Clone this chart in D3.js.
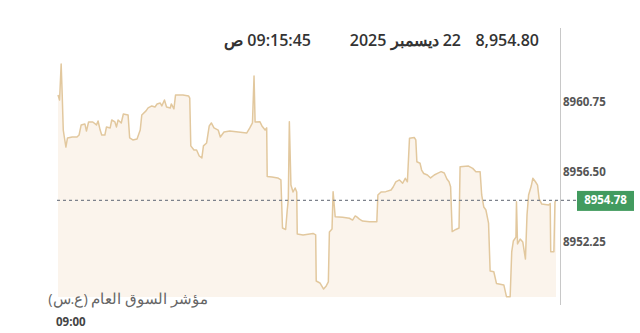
<!DOCTYPE html>
<html><head><meta charset="utf-8">
<script src="https://cdn.jsdelivr.net/npm/d3@7"></script>
<style>html,body{margin:0;padding:0;background:#fff;overflow:hidden}svg{display:block;font-family:"Open Sans","Noto Sans",sans-serif}</style>
</head><body><svg id="c" width="640" height="333"></svg>
<script>
// seconds after 09:00
const times = [0,3,6,8,10,12,15,18,27,36,40,44,51,54,58,66,73,76,80,83,89,92,99,102,108,111,114,120,124,133,136,142,150,156,159,167,171,178,184,188,194,197,202,206,213,215,220,223,237,248,250,252,258,263,268,273,276,282,287,291,296,304,308,315,326,342,358,364,369,372,374,383,387,393,396,397,406,417,423,426,432,435,437,439,442,446,450,453,454,465,484,489,490,497,504,509,513,515,520,522,526,540,553,559,564,567,572,578,591,605,607,613,622,632,636,641,648,654,659,663,667,676,679,681,687,690,694,701,707,714,720,727,733,738,742,745,748,755,761,763,779,787,793,801,804,808,812,817,820,827,832,846,851,858,861,864,869,870,872,877,882,887,890,893,898,901,906,910,913,918,931,934,935,941,943,945];
const values = [8961.16,8960.86,8963.04,8961.16,8959.04,8958.62,8958.01,8958.56,8958.62,8958.62,8958.74,8959.35,8959.41,8958.98,8959.53,8959.53,8959.35,8959.59,8959.04,8958.74,8958.74,8959.23,8959.17,8959.65,8959.53,8959.23,8959.65,8959.47,8960.01,8959.95,8958.56,8958.44,8958.50,8959.04,8959.95,8960.20,8960.38,8960.50,8960.44,8960.62,8960.68,8960.50,8960.86,8960.44,8960.38,8960.62,8960.32,8961.16,8961.16,8961.10,8960.98,8958.08,8957.83,8957.83,8957.47,8957.35,8958.08,8958.26,8959.29,8959.47,8959.17,8959.04,8958.62,8958.92,8958.98,8958.92,8958.86,8959.17,8959.47,8962.31,8959.53,8959.55,8959.29,8959.04,8959.17,8956.23,8956.20,8956.14,8956.02,8953.11,8953.02,8954.20,8954.81,8959.55,8955.71,8955.29,8955.53,8955.29,8952.75,8952.69,8952.78,8952.69,8949.90,8949.78,8949.41,8949.60,8949.84,8952.87,8953.05,8955.31,8953.79,8953.76,8953.70,8953.59,8953.84,8953.78,8953.65,8953.53,8953.49,8953.49,8955.11,8955.29,8955.31,8955.41,8955.59,8955.90,8956.02,8955.82,8956.12,8955.91,8958.54,8958.59,8958.44,8957.12,8957.03,8956.62,8956.41,8956.32,8956.14,8956.32,8956.42,8956.52,8956.44,8956.08,8955.91,8955.61,8952.89,8953.02,8953.11,8956.82,8956.86,8956.72,8956.52,8956.52,8955.11,8954.38,8954.20,8953.41,8950.50,8950.46,8949.75,8949.66,8948.95,8948.95,8951.66,8952.32,8952.56,8954.70,8952.14,8952.44,8952.26,8951.23,8953.90,8955.11,8955.65,8956.12,8955.91,8955.71,8954.87,8954.56,8954.50,8954.59,8951.67,8951.67,8954.68,8954.80];
const yTicks = [8952.25, 8956.50, 8960.75];
const lastPrice = 8954.78;
const headerValue = "8,954.80";
const headerDate = "22 ديسمبر 2025";
const headerTime = "09:15:45 ص";
const indexLabel = "مؤشر السوق العام (ع.س)";
const startLabel = "09:00";

const data = times.map((t, i) => ({t, v: values[i]}));
const svg = d3.select("#c");
const x = d3.scaleLinear().domain([0, 945]).range([58, 556]);
const y = d3.scaleLinear().domain([8948.93, 8965.1]).range([297, 30]);

// area fill
svg.append("path").datum(data)
  .attr("d", d3.area().x(d => x(d.t)).y0(y.range()[0]).y1(d => y(d.v)))
  .attr("fill", "#fbf4ec");

// right axis line
svg.append("line").attr("x1", 560.5).attr("x2", 560.5).attr("y1", 28).attr("y2", 305)
  .attr("stroke", "#c8c8c8").attr("stroke-width", 1);

// price line
svg.append("path").datum(data)
  .attr("d", d3.line().x(d => x(d.t)).y(d => y(d.v)))
  .attr("fill", "none").attr("stroke", "#e2c89e").attr("stroke-width", 1.5)
  .attr("stroke-linejoin", "round");

// last price dotted line
svg.append("line").attr("x1", 57).attr("x2", 577)
  .attr("y1", y(lastPrice)).attr("y2", y(lastPrice))
  .attr("stroke", "#7d828c").attr("stroke-width", 1.4).attr("stroke-dasharray", "3,3");

// y axis tick labels
const yAxis = d3.axisRight(y).tickValues(yTicks).tickSize(0).tickPadding(0).tickFormat(d3.format(".2f"));
const ga = svg.append("g").attr("transform", "translate(563,0)").call(yAxis);
ga.select(".domain").remove();
ga.selectAll("text").attr("fill", "#555").attr("font-size", "11.5px").attr("font-weight", 700)
  .attr("font-family", '"Open Sans","Noto Sans",sans-serif');

// price badge
const by = y(lastPrice);
svg.append("rect").attr("x", 577).attr("y", by - 9.5).attr("width", 57).attr("height", 20)
  .attr("fill", "#429b5f");
svg.append("text").attr("x", 605.5).attr("y", by + 0.5).attr("text-anchor", "middle")
  .attr("dominant-baseline", "middle").attr("fill", "#fff").attr("font-size", "11.5px")
  .attr("font-weight", 700).text(lastPrice.toFixed(2));

// header
const hdr = [{t: headerValue, x: 539}, {t: headerDate, x: 461}, {t: headerTime, x: 311}];
svg.selectAll("text.hdr").data(hdr).enter().append("text").attr("class", "hdr")
  .attr("x", d => d.x).attr("y", 46).attr("direction", "rtl").attr("text-anchor", "start")
  .attr("fill", "#333").attr("font-size", "16px").attr("font-weight", 600).text(d => d.t);

// bottom labels
svg.append("text").attr("x", 208).attr("y", 304).attr("direction", "rtl").attr("text-anchor", "start")
  .attr("fill", "#666").attr("font-size", "14.5px").text(indexLabel);
svg.append("text").attr("x", 56).attr("y", 326).attr("fill", "#444")
  .attr("font-size", "11.5px").attr("font-weight", 700).text(startLabel);
</script></body></html>
